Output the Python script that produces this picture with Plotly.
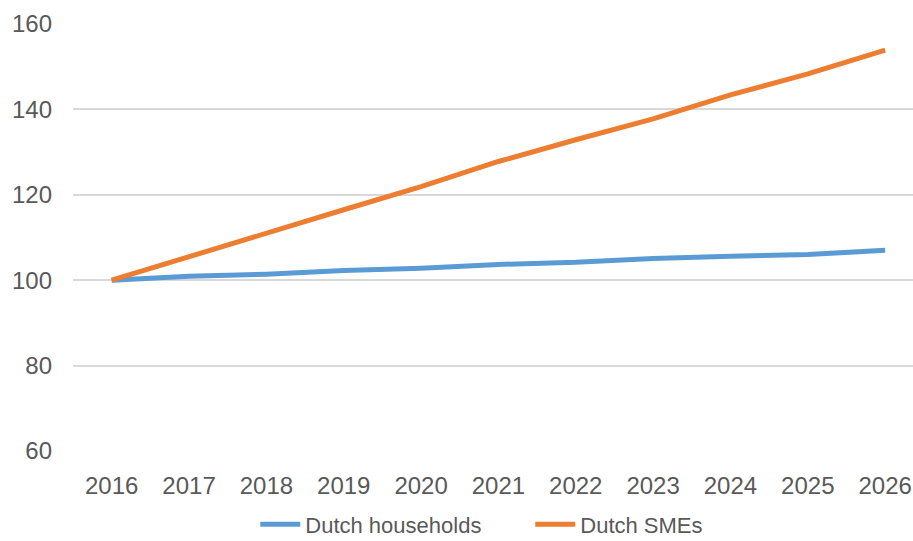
import plotly.graph_objects as go

years = ["2016", "2017", "2018", "2019", "2020", "2021", "2022", "2023", "2024", "2025", "2026"]
households = [100.0, 100.9, 101.4, 102.3, 102.8, 103.7, 104.2, 105.1, 105.6, 106.0, 107.0]
smes = [100.0, 105.6, 110.9, 116.5, 121.9, 127.8, 132.9, 137.8, 143.4, 148.3, 153.9]
y_ticks = [60, 80, 100, 120, 140, 160]

font_family = "Liberation Sans, Arial, sans-serif"
gray = "#595959"

fig = go.Figure()
fig.add_trace(go.Scatter(x=years, y=households, mode="lines", name="Dutch households",
                         line=dict(color="#5B9BD5", width=5)))
fig.add_trace(go.Scatter(x=years, y=smes, mode="lines", name="Dutch SMEs",
                         line=dict(color="#ED7D31", width=5)))

fig.update_layout(
    width=913, height=541,
    margin=dict(l=73, r=0, t=24, b=90, autoexpand=False),
    paper_bgcolor="white", plot_bgcolor="white",
    font=dict(family=font_family, size=22, color=gray),
    showlegend=True,
    legend=dict(orientation="h", x=0.217, xanchor="left", y=-0.172, yanchor="middle",
                font=dict(size=22, color=gray), itemwidth=40, entrywidth=220,
                traceorder="normal"),
    xaxis=dict(type="category", range=[-0.5, 10.36], showgrid=False, zeroline=False,
               showline=False, ticks="", automargin=False, ticklabelstandoff=18,
               tickfont=dict(size=24, color=gray)),
    yaxis=dict(range=[60, 160], tickvals=y_ticks, showgrid=True, gridcolor="#D9D9D9",
               gridwidth=1.5, zeroline=False, showline=False, ticks="", automargin=False,
               ticklabelstandoff=20, tickfont=dict(size=24, color=gray)),
)

fig.write_html(
    "out.html",
    config={"displayModeBar": False},
    post_script="document.body.style.margin='0';document.body.style.overflow='hidden';",
)
